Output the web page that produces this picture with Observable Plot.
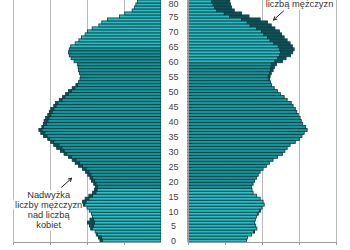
<!DOCTYPE html>
<html>
<head>
<meta charset="utf-8">
<script src="https://cdn.jsdelivr.net/npm/d3@7"></script>
<script src="https://cdn.jsdelivr.net/npm/@observablehq/plot@0.6"></script>
<style>
  body { margin: 0; background: #fff; }
  #chart { display: flex; width: 350px; height: 250px; overflow: hidden; }
  #chart svg { flex: none; }
</style>
</head>
<body>
<div id="chart"></div>
<script>
// Population by single year of age, thousands (men left, women right)
const ages = d3.range(0, 81);
const men = [
  165, 169, 175, 178, 190, 193, 199, 192, 185, 188,
  194, 200, 210, 212, 205, 195, 185, 180, 177, 182,
  188, 192, 198, 204, 212, 223, 232, 240, 250, 262,
  272, 282, 290, 298, 306, 318, 325, 330, 322, 318,
  316, 312, 306, 302, 298, 290, 285, 275, 266, 258,
  250, 240, 230, 223, 219, 217, 220, 223, 224, 226,
  235, 243, 248, 250, 248, 244, 232, 222, 215, 205,
  199, 186, 168, 160, 145, 112, 98, 78, 72, 68,
  64
];
const women = [
  158, 161, 172, 180, 186, 183, 180, 182, 185, 190,
  196, 200, 206, 203, 195, 185, 176, 173, 172, 176,
  180, 185, 190, 195, 203, 212, 220, 230, 242, 255,
  262, 268, 276, 290, 301, 308, 314, 322, 318, 310,
  306, 303, 298, 294, 290, 284, 279, 268, 260, 250,
  242, 233, 226, 223, 220, 222, 225, 230, 234, 239,
  255, 265, 277, 283, 287, 282, 276, 268, 260, 253,
  247, 235, 225, 215, 195, 165, 145, 125, 118, 115,
  113
];
const xTicks = [0, 100, 200, 300, 400];
const ageTicks = d3.range(0, 76, 5);
const topAgeTick = [80];

// working age starts at 18 and ends before the retirement age of each sex
const workStart = 18;
const retirementAge = {men: 65, women: 60};

const colors = {pre: "#2bbcc4", working: "#18939a", post: "#2bbcc4", surplus: "#0f5257"};
const outline = "#0b3b3e";
const gridColor = "#b9b9b9";
const axisColor = "#9a9a9a";
const font = "'Liberation Sans', Arial, sans-serif";

function rowsFor(sex, own, other) {
  return ages.map((age, i) => ({
    age,
    value: own[i],
    base: Math.min(own[i], other[i]),
    phase: age < workStart ? "pre" : age < retirementAge[sex] ? "working" : "post"
  }));
}

function ageLabels(ticks, dy) {
  return Plot.axisY({
    ticks, anchor: "left", tickSize: 0, tickPadding: 0,
    textAnchor: "middle", dx: -15, dy, fontSize: 9, fill: "#444", label: null
  });
}

function side({sex, own, other, width, marginLeft, marginRight, reverse, note, arrow, ageAxis}) {
  const rows = rowsFor(sex, own, other);
  const surplus = rows.filter(d => d.value > d.base);
  const marks = [
    Plot.ruleX(xTicks.slice(1), {stroke: gridColor, strokeWidth: 1}),
    Plot.text([note.text], {
      x: note.x, y: note.y, text: d => d, dy: note.dy,
      lineAnchor: note.lineAnchor, lineHeight: 1.07, fontSize: 9.3,
      fill: "#333", stroke: "white", strokeWidth: 5
    }),
    Plot.barX(rows, {
      y: "age", x1: 0, x2: "base",
      fill: d => colors[d.phase], stroke: outline, strokeWidth: 0.8
    }),
    Plot.barX(surplus, {
      y: "age", x1: "base", x2: "value",
      fill: colors.surplus, stroke: outline, strokeWidth: 0.8
    }),
    Plot.ruleX([0], {stroke: axisColor, strokeWidth: 1}),
    Plot.frame({anchor: "bottom", stroke: axisColor}),
    Plot.axisX({ticks: xTicks, tickSize: 3, tickFormat: () => "", stroke: axisColor, label: null}),
    Plot.arrow([arrow], {
      x1: "x1", y1: "y1", x2: "x2", y2: "y2",
      stroke: "#222", strokeWidth: 1, headLength: 5
    })
  ];
  if (ageAxis) {
    marks.push(ageLabels(ageTicks, 0.5), ageLabels(topAgeTick, 2));
  }
  return Plot.plot({
    width, height: 250,
    marginTop: 0, marginBottom: 8, marginLeft, marginRight,
    style: {fontFamily: font, background: "white"},
    x: {domain: [0, 400], reverse, axis: null},
    y: {type: "band", domain: ages.slice().reverse(), padding: 0, axis: ageAxis ? undefined : null},
    marks
  });
}

const left = side({
  sex: "men", own: men, other: women,
  width: 161, marginLeft: 13, marginRight: 0, reverse: true,
  note: {text: "Nadwyżka\nliczby mężczyzn\nnad liczbą\nkobiet", x: 305, y: 10, dy: -1, lineAnchor: "middle"},
  arrow: {x1: 270, y1: 18, x2: 243, y2: 21},
  ageAxis: false
});

const right = side({
  sex: "women", own: women, other: men,
  width: 189, marginLeft: 27, marginRight: 14, reverse: false,
  note: {text: "liczbą mężczyzn", x: 300, y: 79, dy: 2, lineAnchor: "bottom"},
  arrow: {x1: 257, y1: 77, x2: 230, y2: 74},
  ageAxis: true
});

const chart = document.getElementById("chart");
chart.append(left, right);
</script>
</body>
</html>
